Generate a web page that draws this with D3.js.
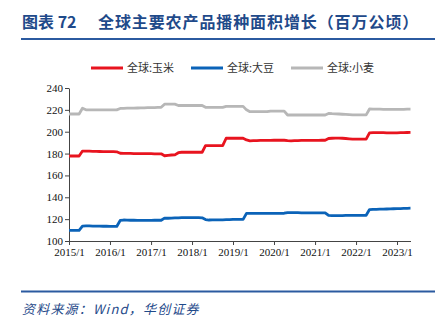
<!DOCTYPE html>
<html><head><meta charset="utf-8">
<script src="https://cdn.jsdelivr.net/npm/d3@7"></script>
<style>body{margin:0;background:#fff}svg{display:block}</style>
</head><body>
<script>
// Monthly data 2015/1 .. 2023/5 (million hectares)
const startMonth = new Date(2015, 0, 1);
const endMonth = new Date(2023, 4, 1);
const yearTicks = ["2015/1","2016/1","2017/1","2018/1","2019/1","2020/1","2021/1","2022/1","2023/1"];
const yTicks = [100,120,140,160,180,200,220,240];
const seriesNames = ["全球:玉米","全球:大豆","全球:小麦"];
const corn = [
 177.8,177.8,177.8,177.8,
 182.3,182.2,182.2,182.1,182.0,181.9,181.8,181.8,181.7,181.7,181.6,
 180.3,180.2,180.2,180.1,180.0,180.0,180.0,179.9,179.9,179.9,179.8,179.8,179.8,
 178.0,178.4,178.7,178.8,
 180.8,181.2,181.2,181.2,181.2,181.2,181.2,181.2,
 187.2,187.2,187.2,187.2,187.2,187.2,
 194.0,194.0,194.0,194.0,194.0,194.0,
 192.5,
 191.7,191.8,191.9,192.0,192.0,192.1,192.1,192.2,192.2,192.2,192.2,
 191.8,191.7,191.8,191.9,192.0,192.0,192.0,192.1,192.1,192.1,192.2,192.2,
 193.8,194.0,194.1,194.1,194.0,193.8,193.5,
 193.2,193.2,193.2,193.2,193.2,
 199.0,199.1,199.2,199.2,199.1,199.0,199.0,199.0,199.0,199.1,199.2,199.3,199.4
];
const soy = [
 109.8,109.8,109.8,109.8,
 113.7,113.8,113.8,113.7,113.6,113.6,113.5,113.5,113.4,113.4,113.3,
 118.8,119.2,119.1,119.0,119.0,118.9,118.9,118.9,118.9,118.9,119.0,119.0,119.0,
 121.0,120.8,120.9,121.1,121.2,121.3,121.3,121.4,121.4,121.4,121.3,121.2,
 119.6,119.2,119.3,119.3,119.4,119.4,119.5,119.6,119.7,119.8,119.8,119.8,
 125.3,125.3,125.3,125.2,125.2,125.2,125.2,125.2,125.2,125.3,125.3,125.4,
 126.0,126.0,125.9,125.9,125.8,125.8,125.8,125.8,125.8,125.8,125.8,125.8,
 123.4,123.2,123.2,123.3,123.3,123.4,123.4,123.5,123.5,123.5,123.5,123.5,
 128.8,129.0,129.0,129.1,129.2,129.3,129.4,129.5,129.6,129.7,129.8,129.9,130.0
];
const wheat = [
 216.2,216.2,216.2,216.2,
 221.5,
 220.0,220.0,220.0,220.0,220.0,220.0,220.0,220.0,220.0,220.0,
 221.3,221.4,221.5,221.5,221.6,221.7,221.8,221.9,222.0,222.0,222.1,222.2,222.3,
 225.2,225.2,225.2,225.2,
 224.0,224.0,224.0,224.0,224.0,224.0,224.0,224.0,
 222.3,222.3,222.3,222.3,222.3,222.3,
 223.2,223.2,223.2,223.2,223.2,223.2,
 220.0,
 218.3,218.3,218.3,218.3,218.3,218.3,
 218.9,218.9,218.9,218.9,218.9,
 215.3,215.3,215.3,215.3,215.3,215.3,215.3,215.3,215.3,215.3,215.3,215.3,
 216.7,216.5,216.4,216.2,216.0,215.8,215.6,
 215.4,215.4,215.4,215.4,215.4,
 220.8,220.7,220.6,220.6,220.5,220.5,220.5,220.5,220.5,220.5,220.5,220.6,220.6
];
const colors = ["#e8141f","#0b63b8","#b7b7b7"];

const W = 447, H = 321;
const svg = d3.select("body").append("svg").attr("width", W).attr("height", H);
const blue = "#1f4a8a";

// Title
svg.append("text").attr("x", 22).attr("y", 28).attr("fill", blue)
  .attr("font-family", "'Noto Sans CJK SC'").attr("font-weight", "bold").attr("font-size", 16)
  .text("图表 72");
svg.append("text").attr("x", 98).attr("y", 28).attr("fill", blue)
  .attr("font-family", "'Noto Sans CJK SC'").attr("font-weight", "bold").attr("font-size", 16)
  .attr("letter-spacing", 0.9)
  .text("全球主要农产品播种面积增长（百万公顷）");
svg.append("line").attr("x1", 21).attr("x2", 435).attr("y1", 39).attr("y2", 39)
  .attr("stroke", "#2b5aa0").attr("stroke-width", 2);

// Legend
const legX = [91, 191, 291];
seriesNames.forEach((n, i) => {
  svg.append("line").attr("x1", legX[i]).attr("x2", legX[i] + 32).attr("y1", 68).attr("y2", 68)
    .attr("stroke", colors[i]).attr("stroke-width", 3);
  svg.append("text").attr("x", legX[i] + 36).attr("y", 72).attr("fill", "#333")
    .attr("font-family", "'Noto Sans CJK SC'").attr("font-size", 11).text(n);
});

// Scales
const months = d3.timeMonth.range(startMonth, d3.timeMonth.offset(endMonth, 1));
const x = d3.scaleTime().domain([startMonth, endMonth]).range([69, 410.5]);
const y = d3.scaleLinear().domain([100, 240]).range([241, 88]);

// Axes
const gy = svg.append("g").attr("transform", "translate(69,0)")
  .call(d3.axisLeft(y).tickValues(yTicks).tickSize(4).tickSizeOuter(0));
const gx = svg.append("g").attr("transform", "translate(0,241)")
  .call(d3.axisBottom(x).tickValues(yearTicks.map(t => { const p = t.split("/"); return new Date(+p[0], +p[1]-1, 1); }))
    .tickFormat((d, i) => yearTicks[i]).tickSize(4).tickSizeOuter(0));
[gx, gy].forEach(g => {
  g.select(".domain").attr("stroke", "#444");
  g.selectAll(".tick line").attr("stroke", "#444");
  g.selectAll("text").attr("font-family", "'Liberation Serif'").attr("font-size", 11).attr("fill", "#111");
});
gy.selectAll("text").attr("x", -6);
gx.selectAll("text").attr("dy", "0.9em").attr("y", 5);

// Lines
const line = d3.line().x((d, i) => x(months[i])).y(d => y(d));
[wheat, corn, soy].forEach((s, k) => {
  const ci = [2, 0, 1][k];
  svg.append("path").datum(s).attr("d", line).attr("fill", "none")
    .attr("stroke", colors[ci]).attr("stroke-width", 2.8).attr("stroke-linejoin", "round");
});

// Footer
svg.append("line").attr("x1", 21).attr("x2", 435).attr("y1", 291.5).attr("y2", 291.5)
  .attr("stroke", "#2b5aa0").attr("stroke-width", 2);
svg.append("text").attr("x", 22).attr("y", 314).attr("fill", blue)
  .attr("font-family", "'Noto Sans CJK SC'").attr("font-style", "italic").attr("font-size", 13)
  .attr("letter-spacing", 1.2)
  .text("资料来源：Wind，华创证券");
</script>
</body></html>
